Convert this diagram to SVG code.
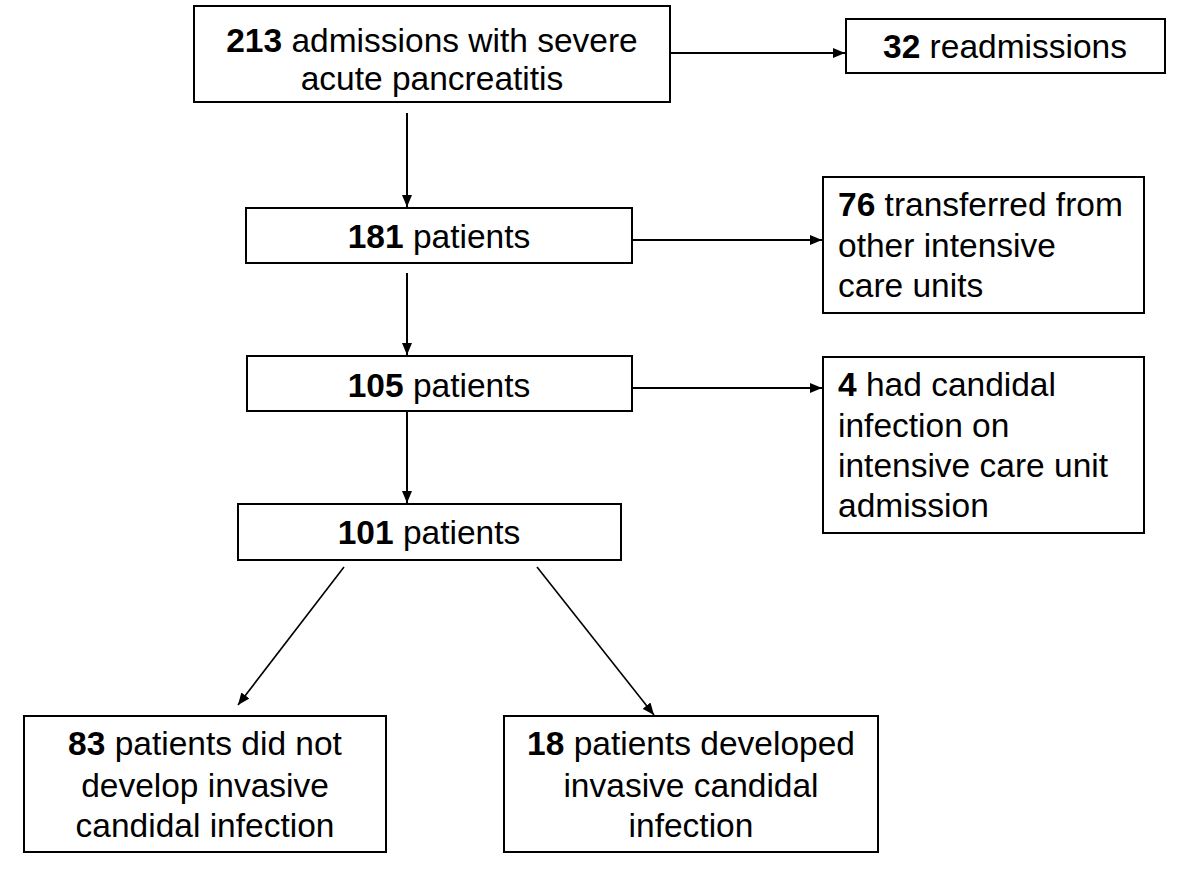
<svg xmlns="http://www.w3.org/2000/svg" width="1200" height="877" viewBox="0 0 1200 877">
<style>
.box{fill:#fff;stroke:#000;stroke-width:2}
.t{font-family:"Liberation Sans",Arial,sans-serif;font-size:33.5px;fill:#000}
.c{text-anchor:middle}
.b{font-weight:bold}
.ln{stroke:#000;stroke-width:2;fill:none}
.dl{stroke:#000;stroke-width:1.6;fill:none}
</style>
<defs>
<marker id="ah" markerWidth="12" markerHeight="10" refX="12" refY="5" orient="auto" markerUnits="userSpaceOnUse">
<path d="M0,0 L12,5 L0,10 Z" fill="#000"/>
</marker>
</defs>
<rect width="1200" height="877" fill="#fff"/>
<g id="connectors">
<line class="ln" x1="670" y1="53" x2="845" y2="53" marker-end="url(#ah)"/>
<line class="ln" x1="407" y1="113" x2="407" y2="207" marker-end="url(#ah)"/>
<line class="ln" x1="632" y1="240" x2="822" y2="240" marker-end="url(#ah)"/>
<line class="ln" x1="407" y1="273" x2="407" y2="355" marker-end="url(#ah)"/>
<line class="ln" x1="632" y1="388" x2="822" y2="388" marker-end="url(#ah)"/>
<line class="ln" x1="407" y1="411" x2="407" y2="503" marker-end="url(#ah)"/>
<line class="dl" x1="344" y1="567" x2="238" y2="705" marker-end="url(#ah)"/>
<line class="dl" x1="537" y1="567" x2="654" y2="715" marker-end="url(#ah)"/>
</g>
<g id="n213">
<rect class="box" x="194" y="6" width="476" height="96"/>
<text class="t c" x="432" y="52"><tspan class="b">213</tspan> admissions with severe</text>
<text class="t c" x="432" y="90">acute pancreatitis</text>
</g>
<g id="n32">
<rect class="box" x="846" y="19" width="319" height="54"/>
<text class="t c" x="1005" y="58"><tspan class="b">32</tspan> readmissions</text>
</g>
<g id="n181">
<rect class="box" x="246" y="208" width="386" height="55"/>
<text class="t c" x="439" y="248"><tspan class="b">181</tspan> patients</text>
</g>
<g id="n76">
<rect class="box" x="823" y="177" width="321" height="136"/>
<text class="t" x="838" y="216"><tspan class="b">76</tspan> transferred from</text>
<text class="t" x="838" y="257">other intensive</text>
<text class="t" x="838" y="297">care units</text>
</g>
<g id="n105">
<rect class="box" x="247" y="356" width="385" height="55"/>
<text class="t c" x="439" y="397"><tspan class="b">105</tspan> patients</text>
</g>
<g id="n4">
<rect class="box" x="823" y="357" width="321" height="176"/>
<text class="t" x="838" y="396"><tspan class="b">4</tspan> had candidal</text>
<text class="t" x="838" y="437">infection on</text>
<text class="t" x="838" y="477">intensive care unit</text>
<text class="t" x="838" y="517">admission</text>
</g>
<g id="n101">
<rect class="box" x="238" y="504" width="383" height="56"/>
<text class="t c" x="429" y="544"><tspan class="b">101</tspan> patients</text>
</g>
<g id="n83">
<rect class="box" x="24" y="716" width="362" height="136"/>
<text class="t c" x="205" y="755"><tspan class="b">83</tspan> patients did not</text>
<text class="t c" x="205" y="797">develop invasive</text>
<text class="t c" x="205" y="837">candidal infection</text>
</g>
<g id="n18">
<rect class="box" x="504" y="716" width="374" height="136"/>
<text class="t c" x="691" y="755"><tspan class="b">18</tspan> patients developed</text>
<text class="t c" x="691" y="797">invasive candidal</text>
<text class="t c" x="691" y="837">infection</text>
</g>
</svg>
